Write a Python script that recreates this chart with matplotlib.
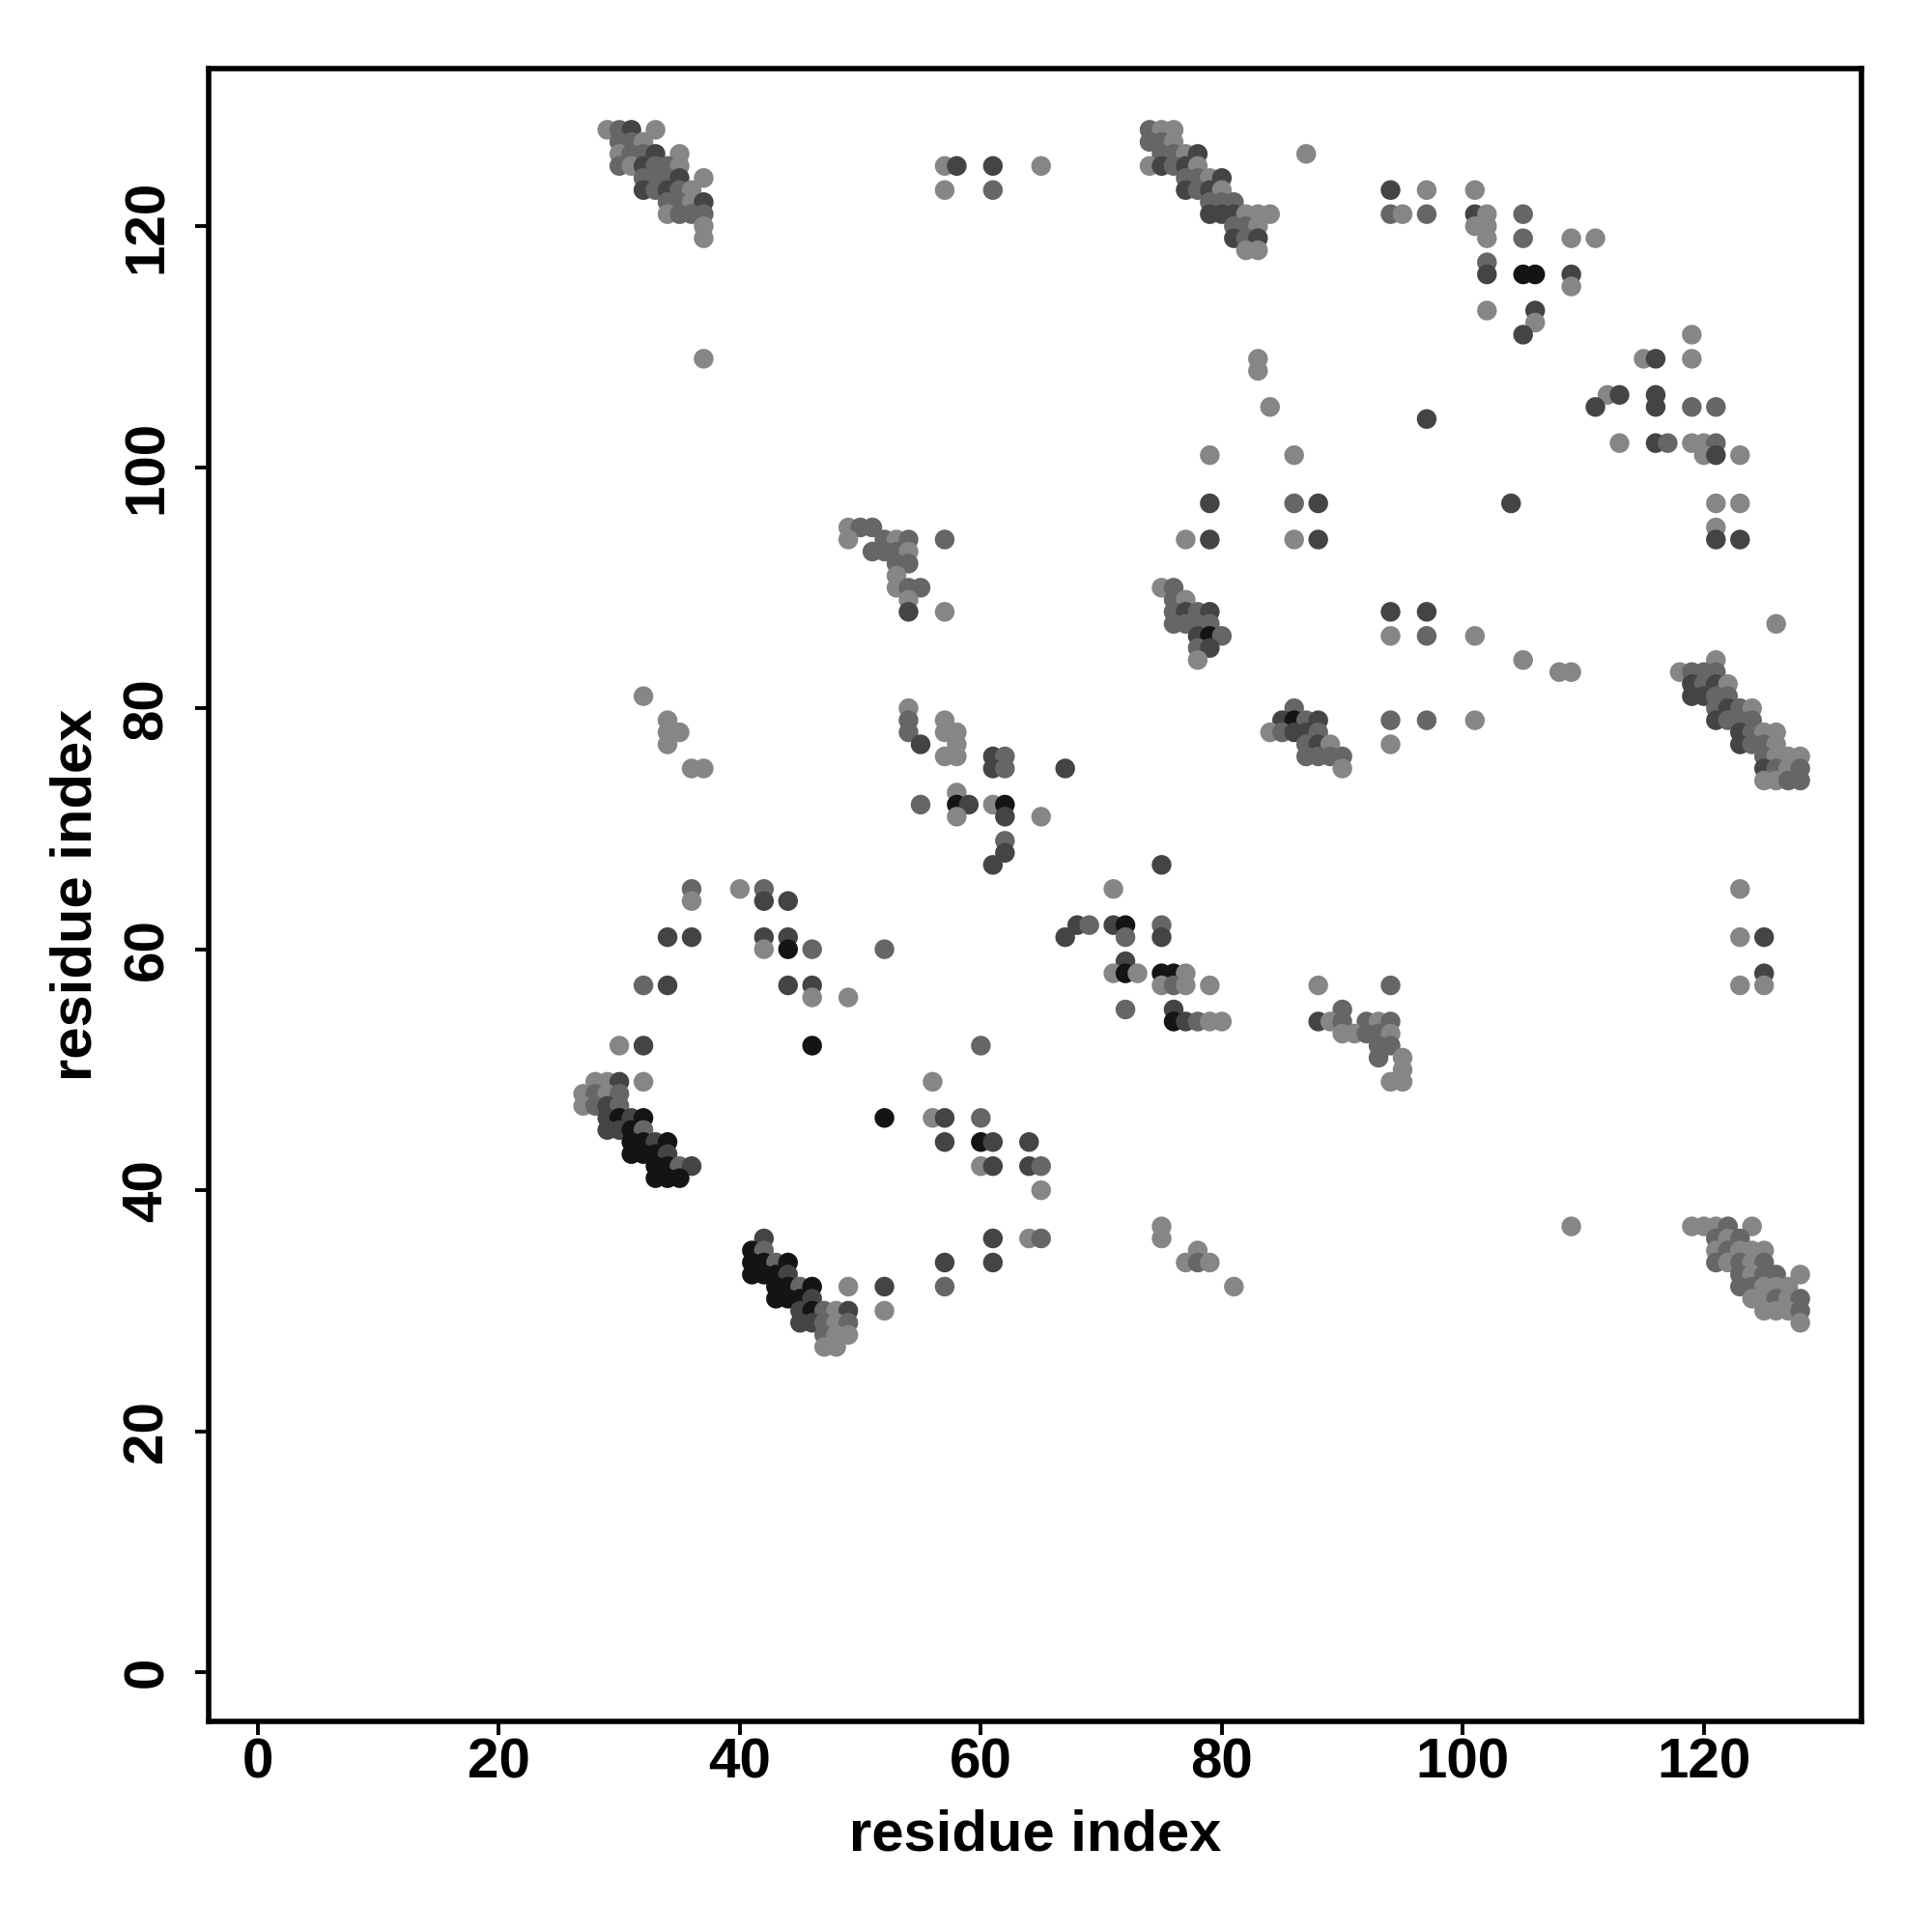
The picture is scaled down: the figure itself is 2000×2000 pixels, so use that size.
import matplotlib
matplotlib.use("Agg")
import matplotlib.pyplot as plt

# shade codes: L light grey, M mid grey, D dark grey, B near black
SHADE = {"L": "#868686", "M": "#666666", "D": "#444444", "B": "#141414"}

x_top_left = [29,30,31,33, 30,31,32, 30,31,32,33,35, 30,31,32,33,34,35, 32,33,34,35,37, 32,33,34,35,36, 34,35,36,37, 34,35,36,37, 37,37, 37]
y_top_left = [128,128,128,128, 127,127,127, 126,126,126,126,126, 125,125,125,125,125,125, 124,124,124,124,124, 123,123,123,123,123, 122,122,122,122, 121,121,121,121, 120,119, 109]
s_top_left = list("LMDL" "MML" "LMMDL" "MLDMML" "MMMDL" "DMDML" "MMLD" "LMMM" "LL" "L")

x_top_mid = [57,58,61,65, 57,61,
             74,75,76, 74,75,76, 75,76,77,78, 74,75,76,77,78, 77,78,79,80, 77,78,79,80,
             79,80,81, 79,80,81,82,83,84, 81,82,83, 81,82,83, 82,83]
y_top_mid = [125,125,125,125, 123,123,
             128,128,128, 127,127,127, 126,126,126,126, 125,125,125,125,125, 124,124,124,124, 123,123,123,123,
             122,122,122, 121,121,121,121,121,121, 120,120,120, 119,119,119, 118,118]
s_top_mid = list("LDDL" "LM" "MLL" "MML" "MMLD" "LDMDL" "MMLD" "DMDL" "MMM" "DDDLLL" "MML" "DMD" "LL")

x_top_right = [87, 94,97,101, 94,95,97,101,102,105, 101,102, 102,105,109,111, 102, 102,105,106,109, 109, 102,106, 106, 105,
               83,83,84, 97,
               112,113,111,113, 115,116,116,116,116,117, 119,119,119,121, 119,120,121,120,121,123,
               121,123,121,121,123]
y_top_right = [126, 123,123,123, 121,121,121,121,121,121, 120,120, 119,119,119,119, 117, 116,116,116,116, 115, 113,113, 112, 111,
               109,108,105, 104,
               106,106,105,102, 109,109,106,105,102,102, 111,109,105,105, 102,102,102,101,101,101,
               97,97,95,94,94]
s_top_right = list("L" "DLL" "MLMDLM" "LL" "LMLL" "M" "DBBD" "L" "LD" "L" "D" "LLL" "D"
                   "LDDL" "LDDDDM" "LLMM" "LLMLDL" "LLLDD")

x_mid_left = [49,50,51, 49, 51, 32,34,34,35,34,
              52,53,54,57, 52,53,54, 53,54, 53, 53,54,55, 54, 54,57,
              54,54,57,54,57,58]
y_mid_left = [95,95,95, 94, 93, 81,79,78,78,77,
              94,94,94,94, 93,93,93, 92,92, 91, 90,90,90, 89, 88,88,
              80,79,79,78,78,78]
s_mid_left = list("LMM" "L" "M" "LLLLL" "MLMM" "MML" "MM" "L" "LMM" "L" "DL" "LMLMLL")

x_mid_mid = [79,79,77,79,
             75,76, 76,77, 76,77,78,79, 76,77,78,79, 78,79,80, 78,79, 78]
y_mid_mid = [101,97,94,94,
             90,90, 89,89, 88,88,88,88, 87,87,87,87, 86,86,86, 85,85, 84]
s_mid_mid = list("LDLD" "LM" "ML" "MDMD" "MMMM" "DBM" "MD" "L")

x_mid_right = [86, 86,88,104, 86,88, 94,97, 94,97,101, 105, 108,109, 126,
               86, 85,86,87,88,94,97,101, 84,85,86,87,88,
               87,88,89,94, 87,88,89,90, 90]
y_mid_right = [101, 97,97,97, 94,94, 88,88, 86,86,86, 84, 83,83, 87,
               80, 79,79,79,79,79,79,79, 78,78,78,78,78,
               77,77,77,77, 76,76,76,76, 75]
s_mid_right = list("L" "MDD" "LD" "DD" "LML" "L" "LL" "L"
                   "M" "DBMDMML" "LMDDM" "MDLL" "MMMM" "L")

# right cluster around (117-128, 74-84)
x_right_a = [121, 118,119,120,121, 119,120,121,122, 119,120,121,122, 121,122,123,124,
             121,122,123,124, 123,124,125,126, 123,124,125,126, 125,126,127,128,
             125,126,127,128, 125,126,127,128]
y_right_a = [84, 83,83,83,83, 82,82,82,82, 81,81,81,81, 80,80,80,80,
             79,79,79,79, 78,78,78,78, 77,77,77,77, 76,76,76,76,
             75,75,75,75, 74,74,74,74]
s_right_a = list("L" "LMMM" "DMDL" "DDMM" "MDML" "DMMM" "DMLL" "DMML" "MLLL" "DMLM" "LLMM")

x_low_mid = [55,58, 61,62, 57,58,61,62,67, 58, 55,58,59,61,62, 58,62,65, 62, 62, 61,75, 71,
             68,69,71,72,75, 67,72,75, 52, 72, 71,72,73,75,76,77, 75,76,77,79, 72,76,
             76,77,78,79,80, 60,
             88,94, 90, 88,89,90,92,93,94, 90,91,92,93,94, 93,94, 93,95, 95, 94,95,
             123,123,125,125,125,123]
y_low_mid = [77,77, 76,76, 76,76,75,75,75, 73, 72,72,72,72,72, 71,71,71, 69, 68, 67,67, 65,
             62,62,62,62,62, 61,61,61, 60, 59, 58,58,58,58,58,58, 57,57,57,57, 55,55,
             54,54,54,54,54, 52,
             57,57, 55, 54,54,54,54,54,54, 53,53,53,53,53, 52,52, 51,51, 50, 49,49,
             65,61,61,58,57,57]
s_low_mid = list("DL" "DM" "LLDMD" "L" "MBDLB" "LDL" "M" "D" "DD" "L"
                 "DMDBM" "DMD" "M" "D" "LBLBBL" "LMLL" "MD"
                 "BDMLL" "M"
                 "LM" "M" "DLMMLM" "LLMML" "MM" "ML" "L" "LL"
                 "LLDDLL")

x_low_left = [36,37, 36,40,42, 36,42,44, 34,36,42,44, 42,44,46, 32,34,44,46, 46,49, 30,32,46,
              28,29,30,32, 27,28,29,30, 27,28,29,30, 29,30,31,32, 29,30,31,32, 31,32,33,34,
              31,32,33,34, 33,34,35,36, 33,34,35, 52]
y_low_left = [75,75, 65,65,65, 64,64,64, 61,61,61,61, 60,60,60, 57,57,57,57, 56,56, 52,52,52,
              49,49,49,49, 48,48,48,48, 47,47,47,47, 46,46,46,46, 45,45,45,45, 44,44,44,44,
              43,43,43,43, 42,42,42,42, 41,41,41, 46]
s_low_left = list("LL" "MLM" "LDD" "DDDD" "LBM" "MDDD" "LL" "LDB"
                  "LLDL" "LMLM" "LMDM" "DBDB" "DDBM" "BBDB" "BBBD" "BBMD" "BBB" "B")

x_bottom = [42, 41,42, 41,42,43,44, 41,42,43,44, 43,44,45,46,49, 43,44,45,46,
            45,46,47,48,49, 45,46,47,48,49, 47,48,49, 47,48, 52,52,
            56, 56,57,60, 57,60,61,64, 60,61,64,65, 65, 61,64,65, 57,61, 57, 75,75, 78,77,78,79, 81, 109]
y_bottom = [36, 35,35, 34,34,34,34, 33,33,33,33, 32,32,32,32,32, 31,31,31,31,
            30,30,30,30,30, 29,29,29,29,29, 28,28,28, 27,27, 32,30,
            49, 46,46,46, 44,44,44,44, 42,42,42,42, 40, 36,36,36, 34,34, 32, 37,36, 35,34,34,34, 32, 37]
s_bottom = list("D" "BM" "BBMB" "BBBD" "BBMBL" "BBBD" "DBMLD" "DDMLM" "MLL" "LL" "DL"
                "L" "LDM" "DBDD" "LDDM" "L" "DLM" "DD" "M" "LL" "LLML" "L" "L")

# lower right cluster (119-128, 29-37)
x_right_b = [119,120,121,122,124, 121,122,123, 121,122,123,124,125, 121,122,123,124,125,
             123,124,125,126,128, 123,124,125,126,127, 124,125,126,127,128, 125,126,127,128, 128]
y_right_b = [37,37,37,37,37, 36,36,36, 35,35,35,35,35, 34,34,34,34,34,
             33,33,33,33,33, 32,32,32,32,32, 31,31,31,31,31, 30,30,30,30, 29]
s_right_b = list("LLLML" "MLM" "LMLLL" "MLMLM" "MLMML" "MMLLL" "LLMLM" "LLLM" "L")

groups = [(x_top_left, y_top_left, s_top_left), (x_top_mid, y_top_mid, s_top_mid),
          (x_top_right, y_top_right, s_top_right), (x_mid_left, y_mid_left, s_mid_left),
          (x_mid_mid, y_mid_mid, s_mid_mid), (x_mid_right, y_mid_right, s_mid_right),
          (x_right_a, y_right_a, s_right_a), (x_low_mid, y_low_mid, s_low_mid),
          (x_low_left, y_low_left, s_low_left), (x_bottom, y_bottom, s_bottom),
          (x_right_b, y_right_b, s_right_b)]

plt.rcParams['font.family'] = ['Liberation Sans', 'DejaVu Sans']
fig = plt.figure(figsize=(10, 10), dpi=200)
ax = fig.add_axes([0.108, 0.109, 0.8555, 0.8555])

for xs, ys, ss in groups:
    n = min(len(xs), len(ys), len(ss))
    ax.scatter(xs[:n], ys[:n], s=54, c=[SHADE[c] for c in ss[:n]], linewidths=0, zorder=3)

ax.set_xlim(-4.08, 133.08)
ax.set_ylim(-4.08, 133.08)
ticks = [0, 20, 40, 60, 80, 100, 120]
ax.set_xticks(ticks)
ax.set_yticks(ticks)
ax.set_xticklabels([str(t) for t in ticks], fontsize=21, fontweight='bold')
ax.set_yticklabels([str(t) for t in ticks], fontsize=21, fontweight='bold', rotation=90, va='center')
ax.tick_params(direction='out', length=5, width=1.4)
ax.tick_params(axis='x', pad=1)
ax.tick_params(axis='y', pad=8)
for sp in ax.spines.values():
    sp.set_linewidth(2.0)
ax.set_xlabel('residue index', fontsize=21.5, fontweight='bold', labelpad=7)
ax.set_ylabel('residue index', fontsize=21.5, fontweight='bold', labelpad=7)

fig.savefig('out.png', dpi=200)
